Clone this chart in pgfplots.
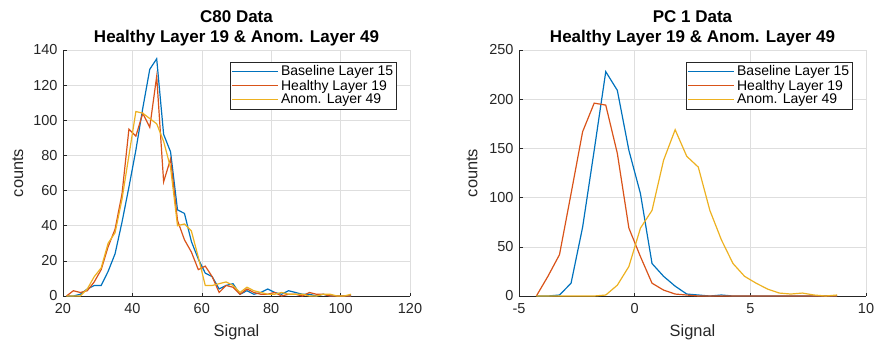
\documentclass[border=0pt]{standalone}
\usepackage{pgfplots}
\pgfplotsset{compat=1.18}
\usepackage{fontspec}
\setmainfont{Liberation Sans}
\definecolor{mblue}{rgb}{0,0.447,0.741}
\definecolor{mred}{rgb}{0.85,0.325,0.098}
\definecolor{myellow}{rgb}{0.929,0.694,0.125}
\definecolor{axgray}{rgb}{0.15,0.15,0.15}

\pgfplotstableread{
x b r y
21 0 0 0
23 0 3 0
25 1 2 0
27 4 3 4
29 6 8 11
31 6 15 16
33 14 28 30
35 24 38 36
37 42 58 55
39 62 95 80
41 83 91 105
43 107 104 104
45 129 96 101
47 135 125 98
49 92 65 88
51 82 78 73
53 49 43 40
55 47 32 41
57 31 25 37
59 21 15 22
61 13 17 6
63 11 11 6
65 4 2 7
67 6 6 8
69 7 5 6
71 1 1 2
73 3 4 5
75 1 2 3
77 2 1 2
79 4 1 1
81 2 2 1
83 1 0 2
85 3 1 1
87 2 1 1
89 1 0 1
91 1 2 0
93 0 1 0
95 1 1 1
97 0 0 1
99 0 0 0
101 0 0 0
103 0 0 1
}\leftdata

\pgfplotstableread{
x b r y
-4.25 0 0 0
-3.75 0 20 0
-3.25 1 42 0
-2.75 13 104 0
-2.25 70 167 0
-1.75 148 196 0
-1.25 228 194 1
-0.75 209 145 11
-0.25 148 69 30
0.25 104 40 69
0.75 33 13 87
1.25 20 6 138
1.75 10 2 169
2.25 2 1 142
2.75 1 0 131
3.25 0 0 87
3.75 1 0 57
4.25 0 0 33
4.75 0 0 20
5.25 0 0 13
5.75 0 0 7
6.25 0 0 3
6.75 0 0 2
7.25 0 0 3
7.75 0 0 1
8.25 0 0 0
8.75 0 0 1
}\rightdata

\pgfplotsset{
  mystyle/.style={
    scale only axis, width=347pt, height=246pt,
    axis x line*=bottom, axis y line*=left,
    axis line style={axgray, line width=0.6pt, -},
    tick align=inside, major tick length=3.5pt,
    tick style={axgray, line width=0.6pt},
    grid=major, grid style={black!13, line width=0.5pt},
    ticklabel style={font=\fontsize{14.5}{17}\selectfont, text=axgray},
    xticklabel style={yshift=-4pt},
    yticklabel style={xshift=-2pt},
    /pgf/number format/assume math mode=true,
    label style={font=\fontsize{16.4}{19}\selectfont, text=axgray},
    xlabel style={at={(axis description cs:0.5,-0.146)}, anchor=center},
    title style={font=\bfseries\fontsize{17}{20}\selectfont, align=center, at={(axis description cs:0.5,1)}, anchor=south, yshift=-6pt},
    legend style={at={(1,1)}, anchor=north east, xshift=-13pt, yshift=-12pt,
      font=\fontsize{14}{18.7}\selectfont, draw=axgray, line width=0.6pt,
      inner sep=1.5pt, row sep=-1.5pt},
    legend cell align=left,
    legend image code/.code={\draw[#1, line width=1.3pt] (0pt,0pt) -- (46pt,0pt);},
    every axis plot/.append style={line width=1.2pt, mark=none},
  }
}

\begin{document}
\begin{tikzpicture}
\useasboundingbox (0,0) rectangle (874pt,346pt);
\begin{axis}[mystyle,
  at={(63pt,50pt)}, anchor=south west,
  xmin=20, xmax=120, ymin=0, ymax=140,
  xtick={20,40,...,120}, ytick={0,20,...,140},
  xlabel={Signal}, ylabel={counts},
  ylabel style={at={(axis description cs:-0.13,0.5)}, anchor=center},
  title={C80 Data\\Healthy Layer 19 \& Anom. Layer 49}]
\addplot[mblue] table[x=x,y=b] {\leftdata};
\addplot[mred] table[x=x,y=r] {\leftdata};
\addplot[myellow] table[x=x,y=y] {\leftdata};
\legend{Baseline Layer 15, Healthy Layer 19, Anom. Layer 49}
\end{axis}
\begin{axis}[mystyle,
  at={(519pt,50pt)}, anchor=south west,
  xmin=-5, xmax=10, ymin=0, ymax=250,
  xtick={-5,0,5,10}, ytick={0,50,...,250},
  xlabel={Signal}, ylabel={counts},
  ylabel style={at={(axis description cs:-0.135,0.5)}, anchor=center},
  title={PC 1 Data\\Healthy Layer 19 \& Anom. Layer 49}]
\addplot[mblue] table[x=x,y=b] {\rightdata};
\addplot[mred] table[x=x,y=r] {\rightdata};
\addplot[myellow] table[x=x,y=y] {\rightdata};
\legend{Baseline Layer 15, Healthy Layer 19, Anom. Layer 49}
\end{axis}
\end{tikzpicture}
\end{document}
